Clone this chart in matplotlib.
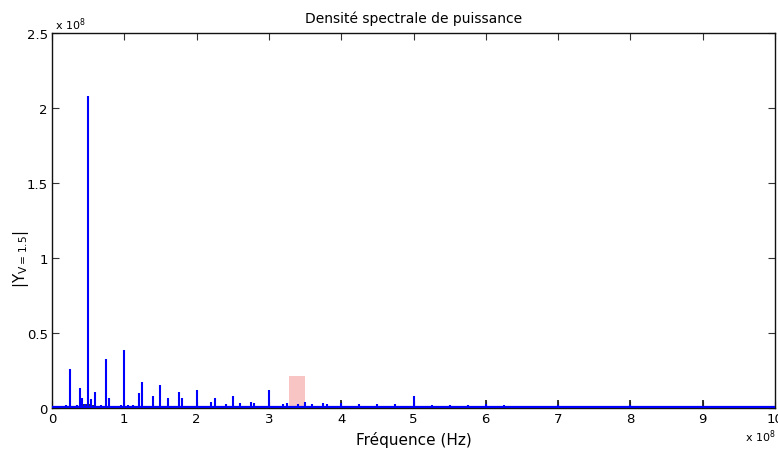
import matplotlib
matplotlib.use("Agg")
import matplotlib.pyplot as plt
from matplotlib.patches import Rectangle

# ---- data (frequency in units of 1e8 Hz, magnitude in units of 1e8) ----
blue_freq = [0.19, 0.25, 0.34, 0.39, 0.41, 0.45, 0.50, 0.54, 0.59, 0.68,
             0.75, 0.79, 0.90, 0.95, 1.00, 1.05, 1.12, 1.20, 1.25, 1.33,
             1.40, 1.50, 1.60, 1.67, 1.75, 1.80, 1.90, 2.00, 2.12, 2.20,
             2.25, 2.33, 2.40, 2.50, 2.60, 2.75, 2.80, 2.90, 3.00, 3.20,
             3.25, 3.40, 3.50, 3.60, 3.75, 3.80, 4.00, 4.25, 4.40, 4.50,
             4.60, 4.75, 4.80, 5.00, 5.20, 5.25, 5.40, 5.50, 5.60, 5.75,
             5.80, 6.00, 6.25, 6.50, 6.75, 7.00, 7.25, 7.50, 7.75, 8.00,
             8.25, 8.75, 9.00, 9.25]
blue_amp = [0.02, 0.26, 0.02, 0.135, 0.07, 0.03, 2.08, 0.06, 0.11, 0.02,
            0.33, 0.07, 0.015, 0.02, 0.385, 0.02, 0.02, 0.10, 0.175, 0.015,
            0.08, 0.155, 0.07, 0.015, 0.11, 0.065, 0.015, 0.12, 0.015, 0.04,
            0.065, 0.015, 0.03, 0.08, 0.033, 0.04, 0.035, 0.012, 0.12, 0.03,
            0.033, 0.03, 0.04, 0.025, 0.035, 0.025, 0.035, 0.027, 0.015, 0.027,
            0.015, 0.025, 0.015, 0.08, 0.01, 0.02, 0.01, 0.02, 0.008, 0.02,
            0.01, 0.025, 0.02, 0.01, 0.015, 0.02, 0.01, 0.008, 0.01, 0.02,
            0.01, 0.01, 0.015, 0.008]

black_freq = [0.36, 0.40, 0.44, 0.47, 0.50, 0.53, 0.57, 0.62, 0.67,
              3.00, 4.00, 5.00, 6.00, 7.00, 8.00, 9.00]
black_amp = [0.015, 0.02, 0.025, 0.03, 0.06, 0.03, 0.02, 0.015, 0.01,
             0.06, 0.055, 0.05, 0.055, 0.055, 0.055, 0.055]

baseline_level = 0.004

highlight_freq = (3.28, 3.50)
highlight_amp = 0.213

x_ticks = [0, 1, 2, 3, 4, 5, 6, 7, 8, 9, 10]
y_ticks = [0, 0.5, 1, 1.5, 2, 2.5]
y_tick_labels = ["0", "0.5", "1", "1.5", "2", "2.5"]

# ---- figure ----
fig = plt.figure(figsize=(7.78, 4.52), dpi=100)
ax = fig.add_axes([52 / 778, 1 - 409 / 452, 723 / 778, 375 / 452])

ax.add_patch(Rectangle((highlight_freq[0], 0), highlight_freq[1] - highlight_freq[0],
                       highlight_amp, facecolor="#f9c4c4", edgecolor="none", zorder=1))

ax.vlines(black_freq, 0, black_amp, colors="#222222", linewidth=1.3, zorder=2)
ax.vlines(blue_freq, 0, blue_amp, colors="#0000ff", linewidth=1.5, zorder=3)
ax.axhline(baseline_level, color="#0000ff", linewidth=1.6, zorder=3)

ax.set_xlim(0, 10)
ax.set_ylim(0, 2.5)
ax.set_xticks(x_ticks)
ax.set_xticklabels([str(t) for t in x_ticks])
ax.set_yticks(y_ticks)
ax.set_yticklabels(y_tick_labels)
ax.tick_params(direction="in", length=5, width=0.8, top=True, right=True,
               labelsize=9.5, pad=3, color="#333333")
for s in ax.spines.values():
    s.set_linewidth(1.0)
    s.set_color("#111111")

ax.set_title("Densité spectrale de puissance", fontsize=10, pad=8)
ax.set_xlabel("Fréquence (Hz)", fontsize=11, labelpad=4)
ax.set_ylabel(r"$|\mathrm{Y}_{\mathrm{V=1.5}}|$", fontsize=11)
ax.yaxis.set_label_coords(-0.029, 0.40)

fig.text(55 / 778, 1 - 25 / 452, r"x 10$^{8}$", fontsize=8, ha="left", va="center")
fig.text(745 / 778, 1 - 437 / 452, r"x 10$^{8}$", fontsize=8, ha="left", va="center")

fig.savefig("out.png", dpi=100)
